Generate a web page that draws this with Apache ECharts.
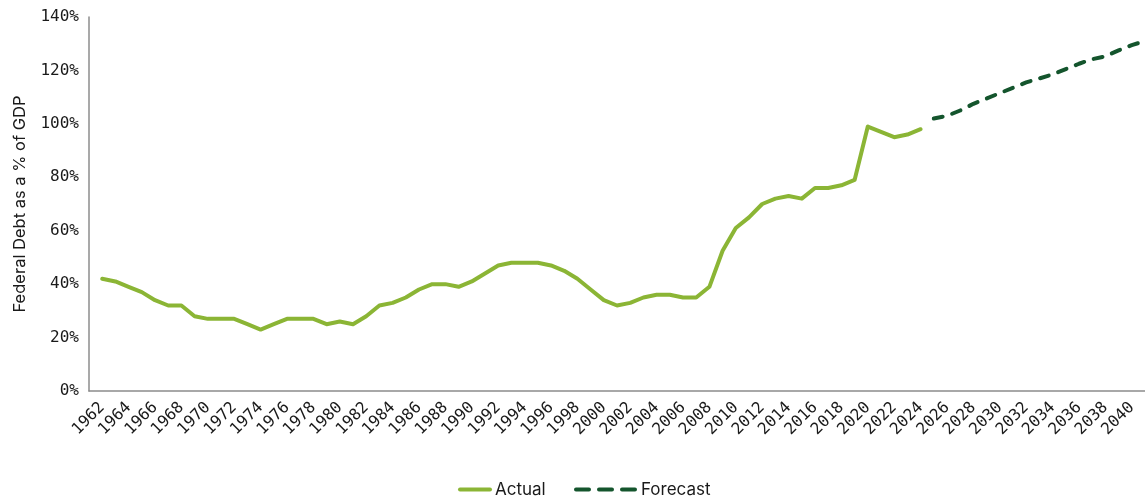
<!DOCTYPE html>
<html>
<head>
<meta charset="utf-8">
<script src="https://cdn.jsdelivr.net/npm/echarts@6/dist/echarts.min.js"></script>
<style>
html,body{margin:0;padding:0;background:#fff;}
#chart{width:1145px;height:497px;}
</style>
</head>
<body>
<div id="chart"></div>
<script>
const actualYears = [1962,1963,1964,1965,1966,1967,1968,1969,1970,1971,1972,1973,1974,1975,1976,1977,1978,1979,1980,1981,1982,1983,1984,1985,1986,1987,1988,1989,1990,1991,1992,1993,1994,1995,1996,1997,1998,1999,2000,2001,2002,2003,2004,2005,2006,2007,2008,2009,2010,2011,2012,2013,2014,2015,2016,2017,2018,2019,2020,2021,2022,2023,2024];
const actualValues = [42,41,39,37,34,32,32,28,27,27,27,25,23,25,27,27,27,25,26,25,28,32,33,35,38,40,40,39,41,44,47,48,48,48,47,45,42,38,34,32,33,35,36,36,35,35,39,52.5,61,65,70,72,73,72,76,76,77,79,99,97,95,96,98];
const forecastYears = [2025,2026,2027,2028,2029,2030,2031,2032,2033,2034,2035,2036,2037,2038,2039,2040,2041];
const forecastValues = [102,103,105,107.5,109.5,111.5,113.5,115.5,117,118.5,120.5,122.5,124.2,125.3,127.5,129.5,131];
const xTickLabels = [1962,1964,1966,1968,1970,1972,1974,1976,1978,1980,1982,1984,1986,1988,1990,1992,1994,1996,1998,2000,2002,2004,2006,2008,2010,2012,2014,2016,2018,2020,2022,2024,2026,2028,2030,2032,2034,2036,2038,2040];
const yTicks = [0,20,40,60,80,100,120,140];

const actualData = actualYears.map((y, i) => [y, actualValues[i]]);
const forecastData = forecastYears.map((y, i) => [y, forecastValues[i]]);

const chart = echarts.init(document.getElementById('chart'), null, {renderer: 'canvas'});
const monoFont = '"DejaVu Sans Mono", monospace';
const sansFont = 'Inter, "Noto Sans", sans-serif';

chart.setOption({
  animation: false,
  backgroundColor: '#ffffff',
  grid: {left: 89, right: 0, top: 17, bottom: 106, containLabel: false},
  xAxis: {
    type: 'value',
    min: 1961,
    max: 2041,
    axisLine: {show: true, lineStyle: {color: '#8c8c8c', width: 1.5}},
    axisTick: {show: false},
    splitLine: {show: false},
    axisLabel: {
      customValues: xTickLabels,
      rotate: 45,
      margin: 14,
      color: '#1a1a1a',
      fontFamily: monoFont,
      fontSize: 16,
      formatter: v => String(v)
    }
  },
  yAxis: {
    type: 'value',
    min: yTicks[0],
    max: yTicks[yTicks.length - 1],
    interval: 20,
    name: 'Federal Debt as a % of GDP',
    nameLocation: 'middle',
    nameGap: 60,
    nameTextStyle: {color: '#1a1a1a', fontFamily: sansFont, fontSize: 16.5},
    axisLine: {show: true, lineStyle: {color: '#8c8c8c', width: 1.5}},
    axisTick: {show: false},
    splitLine: {show: false},
    axisLabel: {
      margin: 10,
      color: '#1a1a1a',
      fontFamily: monoFont,
      fontSize: 16,
      formatter: '{value}%'
    }
  },
  legend: [
    {
      data: ['Actual'],
      left: 453,
      top: 476,
      itemWidth: 30,
      itemHeight: 14,
      itemGap: 8,
      textStyle: {color: '#1a1a1a', fontFamily: sansFont, fontSize: 17},
      itemStyle: {opacity: 0},
      lineStyle: {width: 4, cap: 'round'}
    },
    {
      data: ['Forecast'],
      left: 569,
      top: 476,
      itemWidth: 60,
      itemHeight: 14,
      textStyle: {color: '#1a1a1a', fontFamily: sansFont, fontSize: 17},
      itemStyle: {opacity: 0},
      lineStyle: {width: 4, cap: 'round', type: [13, 10]}
    }
  ],
  series: [
    {
      name: 'Actual',
      type: 'line',
      data: actualData,
      showSymbol: false,
      symbol: 'none',
      lineStyle: {color: '#8bb535', width: 4, join: 'round', cap: 'round'},
      itemStyle: {color: '#8bb535'}
    },
    {
      name: 'Forecast',
      type: 'line',
      data: forecastData,
      showSymbol: false,
      symbol: 'none',
      lineStyle: {color: '#14552d', width: 4, type: [9, 10], cap: 'round', join: 'round'},
      itemStyle: {color: '#14552d'}
    }
  ]
});
</script>
</body>
</html>
